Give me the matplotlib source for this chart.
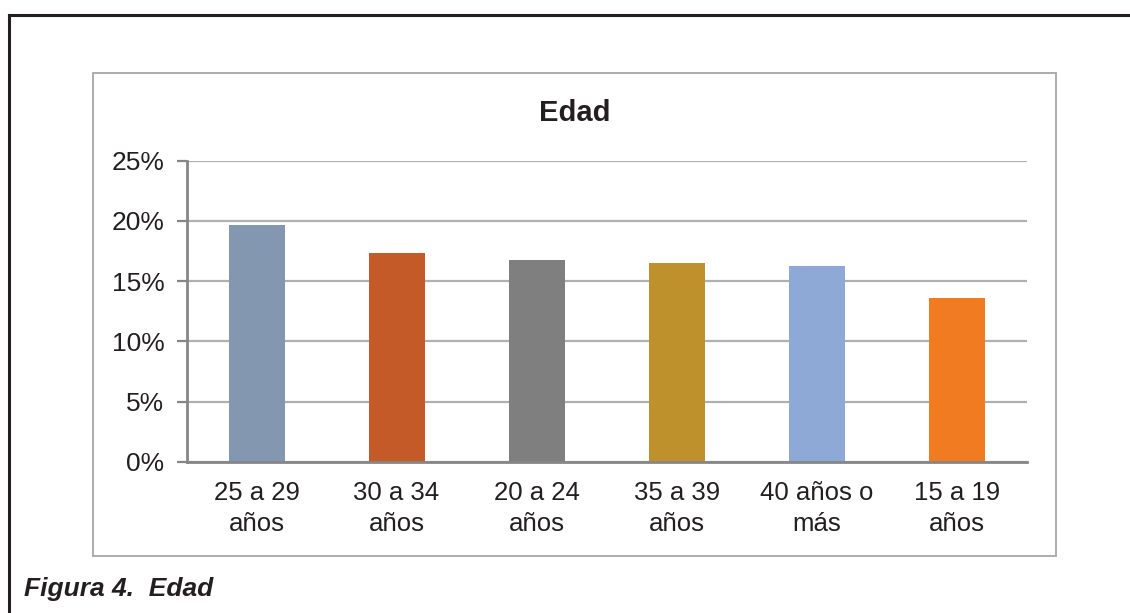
import matplotlib.pyplot as plt
from matplotlib.lines import Line2D
from matplotlib.patches import Rectangle
from matplotlib.ticker import PercentFormatter

# Distribución por grupo de edad
categorias = ['25 a 29\naños', '30 a 34\naños', '20 a 24\naños',
              '35 a 39\naños', '40 años o\nmás', '15 a 19\naños']
porcentajes = [19.65, 17.35, 16.75, 16.5, 16.25, 13.6]
colores = ['#8497B0', '#C45A27', '#7F7F7F', '#BF912C', '#8EA9D6', '#F07B21']

W, H = 1130, 613
fig = plt.figure(figsize=(W / 100, H / 100), dpi=100)
plt.rcParams['font.family'] = ['Liberation Sans', 'DejaVu Sans']


def fx(px):
    return px / W


def fy(py):
    return 1 - py / H


# marco exterior (solo bordes superior e izquierdo visibles)
fig.add_artist(Line2D([fx(9), fx(9)], [fy(15), 0], transform=fig.transFigure,
                      color='#231f20', lw=2.2))
fig.add_artist(Line2D([fx(9), 1], [fy(15), fy(15)], transform=fig.transFigure,
                      color='#231f20', lw=2.2))

# recuadro del gráfico
fig.add_artist(Rectangle((fx(93), fy(556)), fx(1056) - fx(93), fy(73) - fy(556),
                         transform=fig.transFigure, fill=False,
                         edgecolor='#a6a6a6', lw=1.3))

ax = fig.add_axes([fx(186.5), fy(461.7), fx(1026.7) - fx(186.5), fy(160.7) - fy(461.7)])
x = range(len(categorias))
ax.bar(x, porcentajes, width=0.4, color=colores, zorder=3)

ax.set_xlim(-0.5, len(categorias) - 0.5)
ax.set_ylim(0, 25)
ax.set_yticks([0, 5, 10, 15, 20, 25])
ax.yaxis.set_major_formatter(PercentFormatter(decimals=0))
ax.grid(axis='y', color='#b0b0b0', lw=1.6, zorder=0)
ax.set_xticks(list(x))
ax.set_xticklabels(categorias, fontsize=18.5, color='#231f20', linespacing=1.35)
ax.tick_params(axis='x', length=0, pad=14)
ax.tick_params(axis='y', length=7, width=1.6, color='#868686', labelsize=19,
               labelcolor='#231f20', pad=9)

for s in ['top', 'right']:
    ax.spines[s].set_visible(False)
ax.spines['left'].set_color('#868686')
ax.spines['left'].set_linewidth(2)
ax.spines['bottom'].set_color('#868686')
ax.spines['bottom'].set_linewidth(2)
ax.spines['bottom'].set_zorder(4)

fig.text(fx(574.5), fy(113), 'Edad', ha='center', va='center', fontsize=21,
         fontweight='bold', color='#231f20')
fig.text(fx(24), fy(589), 'Figura 4.  Edad', ha='left', va='center', fontsize=19,
         fontweight='bold', fontstyle='italic', color='#231f20')

fig.savefig('out.png', dpi=100)
